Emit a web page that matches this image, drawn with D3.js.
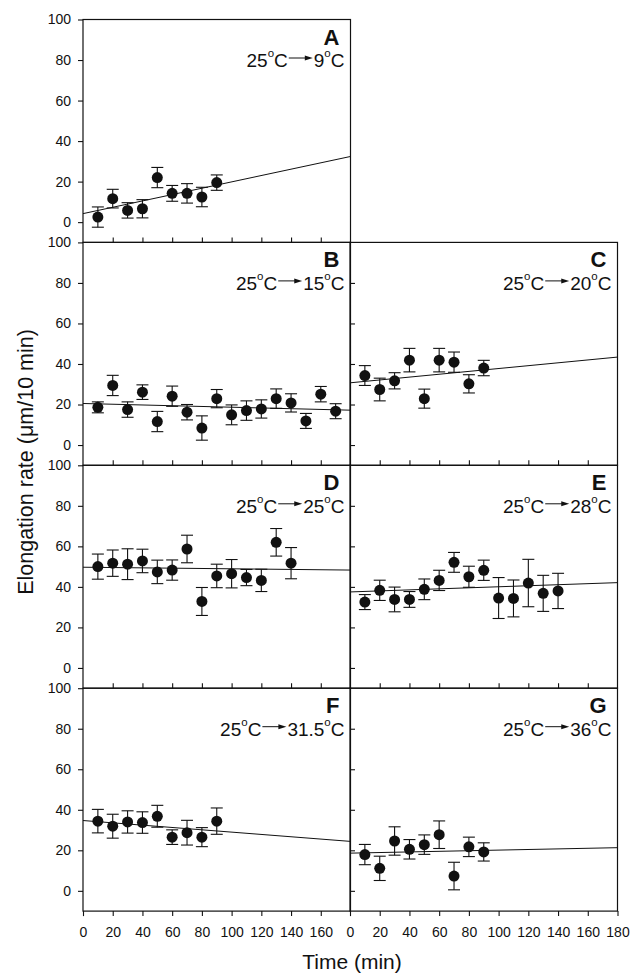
<!DOCTYPE html>
<html>
<head>
<meta charset="utf-8">
<script src="https://cdn.jsdelivr.net/npm/d3@7"></script>
<style>
  body { margin: 0; background: #fff; }
  svg text { font-family: "Liberation Sans", Arial, sans-serif; fill: #111; }
</style>
</head>
<body>
<div id="chart"></div>
<script>
// elongation rate after a shift from 25 C, one panel per new temperature
var letters = ["A", "B", "C", "D", "E", "F", "G"];
var fromTemp = "25";
var toTemps = ["9", "15", "20", "25", "28", "31.5", "36"];

var xTicks = [0, 20, 40, 60, 80, 100, 120, 140, 160, 180];
var yTicks = [0, 20, 40, 60, 80, 100];

var times9 = [10, 20, 30, 40, 50, 60, 70, 80, 90];
var times14 = [10, 20, 30, 40, 50, 60, 70, 80, 90, 100, 110, 120, 130, 140];
var times17 = [10, 20, 30, 40, 50, 60, 70, 80, 90, 100, 110, 120, 130, 140, 150, 160, 170];

var rateA = [2.5, 11.6, 5.8, 6.6, 22.0, 14.2, 14.2, 12.4, 19.5];
var errA = [5.0, 4.6, 3.8, 4.5, 5.0, 3.9, 4.8, 4.8, 3.8];
var rateB = [18.6, 29.4, 17.5, 26.1, 11.6, 24.1, 16.2, 8.4, 22.9, 14.9, 17.0, 17.8, 22.9, 20.8, 11.9, 25.1, 16.7];
var errB = [2.7, 5.0, 3.8, 3.6, 5.0, 5.0, 3.8, 6.0, 4.5, 4.9, 4.8, 4.5, 4.8, 4.5, 3.7, 3.8, 3.7];
var rateC = [34.3, 27.4, 31.7, 41.9, 22.9, 41.9, 40.9, 30.2, 38.0];
var errC = [4.9, 5.6, 4.0, 5.8, 4.7, 5.8, 5.0, 4.5, 3.8];
var rateD = [50.0, 51.7, 51.2, 52.8, 47.4, 48.3, 58.7, 32.8, 45.4, 46.5, 44.6, 43.2, 62.0, 51.7];
var errD = [6.2, 6.5, 7.6, 5.8, 5.8, 5.0, 6.8, 6.9, 5.8, 7.0, 4.0, 5.5, 6.8, 7.7];
var rateE = [32.5, 38.3, 33.8, 33.8, 38.8, 43.2, 52.1, 45.0, 48.2, 34.5, 34.3, 41.9, 36.8, 38.0];
var errE = [3.7, 5.0, 6.1, 3.9, 5.1, 5.0, 4.9, 5.2, 5.0, 10.1, 9.1, 11.7, 8.9, 8.7];
var rateF = [34.4, 31.9, 34.0, 33.7, 36.8, 26.5, 28.7, 26.5, 34.4];
var errF = [5.8, 5.9, 5.5, 5.3, 5.4, 3.6, 6.1, 4.7, 6.5];
var rateG = [17.9, 11.1, 24.6, 20.5, 22.8, 27.7, 7.3, 21.7, 19.2];
var errG = [5.0, 6.0, 7.0, 4.8, 4.8, 6.8, 6.8, 4.8, 4.5];

// regression line values at t = 0 and t = 180
var fitTimes = [0, 180];
var fitA = [4.2, 32.4];
var fitB = [20.5, 17.2];
var fitC = [30.7, 43.4];
var fitD = [49.7, 48.3];
var fitE = [37.5, 42.1];
var fitF = [34.7, 24.4];
var fitG = [18.6, 21.3];

var panels = [
  {times: times9, rate: rateA, err: errA, fit: fitA, col: 0, row: 0},
  {times: times17, rate: rateB, err: errB, fit: fitB, col: 0, row: 1},
  {times: times9, rate: rateC, err: errC, fit: fitC, col: 1, row: 1},
  {times: times14, rate: rateD, err: errD, fit: fitD, col: 0, row: 2},
  {times: times14, rate: rateE, err: errE, fit: fitE, col: 1, row: 2},
  {times: times9, rate: rateF, err: errF, fit: fitF, col: 0, row: 3},
  {times: times9, rate: rateG, err: errG, fit: fitG, col: 1, row: 3}
];

var W = 640, H = 973;
var colX = [83, 350], colW = 267.5;
var top0 = 19.5, rowH = 222.9, nRows = 4;

var svg = d3.select("#chart").append("svg")
  .attr("width", W)
  .attr("height", H);

var x = d3.scaleLinear().domain([0, 180]).range([0, colW]);
var y = d3.scaleLinear().domain([-10, 100]).range([rowH, 0]);

panels.forEach(function(p, i) {
  drawPanel(p, i);
});

function styleAxis(ax) {
  ax.select(".domain").remove();
  ax.selectAll(".tick line").attr("stroke", "#111").attr("stroke-width", 1.1);
  ax.selectAll(".tick text")
    .attr("font-size", 14)
    .attr("font-family", "Liberation Sans, Arial, sans-serif")
    .attr("fill", "#111");
}

function drawPanel(p, i) {
  var g = svg.append("g")
    .attr("transform", "translate(" + colX[p.col] + "," + (top0 + p.row * rowH) + ")");

  //y axis: outside on the left column, inward ticks on the right column
  if (p.col === 0) {
    var ay = g.append("g")
      .call(d3.axisLeft(y).tickValues(yTicks).tickSize(5).tickPadding(7));
    styleAxis(ay);
  } else {
    var ay2 = g.append("g")
      .call(d3.axisRight(y).tickValues(yTicks.slice(0, 5)).tickSize(5).tickFormat(""));
    styleAxis(ay2);
  }

  //x axis: labelled only on the bottom row
  if (p.row === nRows - 1) {
    var vals = p.col === 0 ? xTicks.slice(0, 9) : xTicks;
    var ax = g.append("g")
      .attr("transform", "translate(0," + rowH + ")")
      .call(d3.axisBottom(x).tickValues(vals).tickSize(5).tickPadding(11));
    styleAxis(ax);
  } else {
    var ax2 = g.append("g")
      .attr("transform", "translate(0," + rowH + ")")
      .call(d3.axisTop(x).tickValues(xTicks.slice(1, 9)).tickSize(5).tickFormat(""));
    styleAxis(ax2);
  }

  //frame
  g.append("rect")
    .attr("width", colW)
    .attr("height", rowH)
    .attr("fill", "none")
    .attr("stroke", "#111")
    .attr("stroke-width", 1.2);

  //regression line
  g.append("line")
    .attr("x1", x(fitTimes[0]))
    .attr("x2", x(fitTimes[1]))
    .attr("y1", y(p.fit[0]))
    .attr("y2", y(p.fit[1]))
    .attr("stroke", "#111")
    .attr("stroke-width", 1);

  var pts = p.times.map(function(t, k) { return {t: t, v: p.rate[k], e: p.err[k]}; });

  //error bars
  var bars = g.selectAll("g.bar")
    .data(pts)
    .enter()
    .append("g")
    .attr("class", "bar")
    .attr("stroke", "#111")
    .attr("stroke-width", 1.1);
  bars.append("line")
    .attr("x1", function(d) { return x(d.t); })
    .attr("x2", function(d) { return x(d.t); })
    .attr("y1", function(d) { return y(d.v - d.e); })
    .attr("y2", function(d) { return y(d.v + d.e); });
  bars.append("line")
    .attr("x1", function(d) { return x(d.t) - 6; })
    .attr("x2", function(d) { return x(d.t) + 6; })
    .attr("y1", function(d) { return y(d.v + d.e); })
    .attr("y2", function(d) { return y(d.v + d.e); });
  bars.append("line")
    .attr("x1", function(d) { return x(d.t) - 6; })
    .attr("x2", function(d) { return x(d.t) + 6; })
    .attr("y1", function(d) { return y(d.v - d.e); })
    .attr("y2", function(d) { return y(d.v - d.e); });

  //dots
  g.selectAll("circle")
    .data(pts)
    .enter()
    .append("circle")
    .attr("cx", function(d) { return x(d.t); })
    .attr("cy", function(d) { return y(d.v); })
    .attr("r", 5.5)
    .attr("fill", "#111");

  //panel letter
  g.append("text")
    .attr("x", colW - 11)
    .attr("y", 25)
    .attr("text-anchor", "end")
    .attr("font-size", 22)
    .attr("font-weight", "bold")
    .text(letters[i]);

  drawShift(g, toTemps[i], colW - 6, 47.5);
}

function degText(sel, num) {
  sel.append("tspan").text(num);
  sel.append("tspan").attr("font-size", 11.5).attr("dy", -10).text("o");
  sel.append("tspan").attr("dy", 10).text("C");
}

function drawShift(g, to, right, base) {
  var lab = g.append("g");
  var t1 = lab.append("text").attr("font-size", 19);
  degText(t1, fromTemp);
  var w1 = t1.node().getComputedTextLength();
  //arrow
  lab.append("line")
    .attr("x1", w1 + 1)
    .attr("x2", w1 + 19)
    .attr("y1", -9)
    .attr("y2", -9)
    .attr("stroke", "#111")
    .attr("stroke-width", 1);
  lab.append("path")
    .attr("d", "M" + (w1 + 17) + ",-11.5L" + (w1 + 25) + ",-9L" + (w1 + 17) + ",-6.5Z")
    .attr("fill", "#111");
  var t2 = lab.append("text").attr("font-size", 19).attr("x", w1 + 26);
  degText(t2, to);
  var w2 = t2.node().getComputedTextLength();
  lab.attr("transform", "translate(" + (right - w1 - 26 - w2) + "," + base + ")");
}

//axis titles
svg.append("text")
  .attr("transform", "translate(33,462) rotate(-90)")
  .attr("text-anchor", "middle")
  .attr("font-size", 21.5)
  .text("Elongation rate (\u03bcm/10 min)");

svg.append("text")
  .attr("x", 352)
  .attr("y", 969)
  .attr("text-anchor", "middle")
  .attr("font-size", 21)
  .text("Time (min)");
</script>
</body>
</html>
